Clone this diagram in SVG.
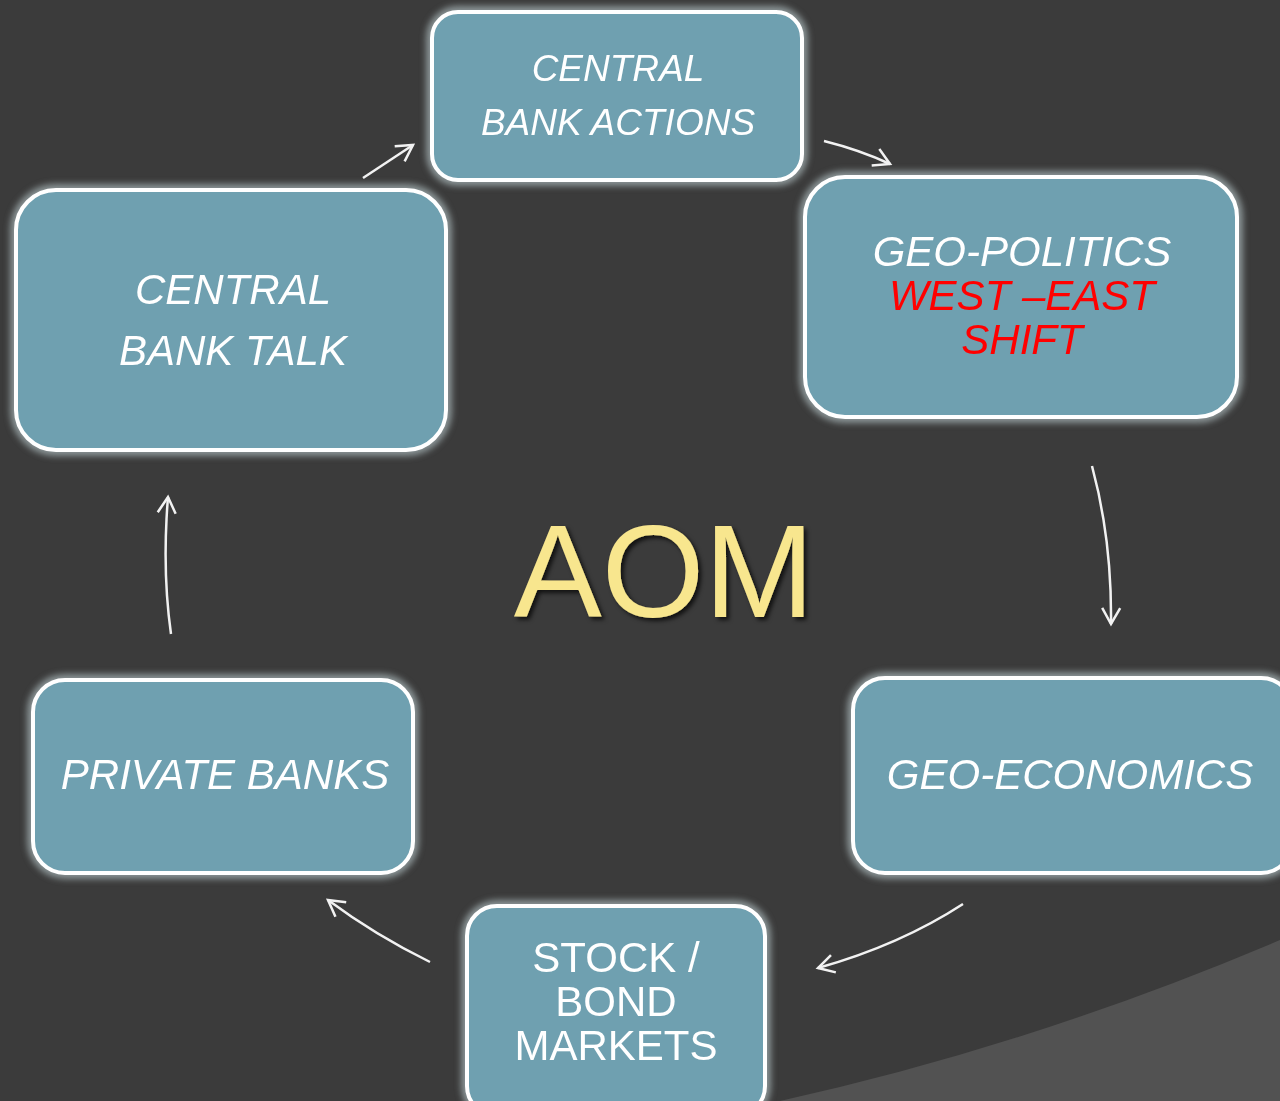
<svg xmlns="http://www.w3.org/2000/svg" width="1280" height="1101" viewBox="0 0 1280 1101">
<defs>
<style>
.box{fill:#6fa0b0;stroke:#ffffff;stroke-width:4}
.halo{fill:none;stroke:#98a3a6;stroke-width:12;opacity:0.85}
.t{font-family:"Liberation Sans",Arial,sans-serif;font-style:italic;fill:#ffffff;text-anchor:middle}
.n{font-family:"Liberation Sans",Arial,sans-serif;fill:#ffffff;text-anchor:middle}
.red{fill:#ff0000}
.conn{fill:none;stroke:#f2f2f2;stroke-width:2.5;marker-end:url(#ah)}
</style>
<filter id="blur" x="-10%" y="-10%" width="120%" height="120%"><feGaussianBlur stdDeviation="3"/></filter>
<filter id="shadow" x="-10%" y="-10%" width="130%" height="130%">
<feGaussianBlur in="SourceAlpha" stdDeviation="2"/>
<feOffset dx="3" dy="3" result="b"/>
<feFlood flood-color="#000000" flood-opacity="0.7"/>
<feComposite in2="b" operator="in" result="s"/>
<feMerge><feMergeNode in="s"/><feMergeNode in="SourceGraphic"/></feMerge>
</filter>
<marker id="ah" viewBox="0 0 24 24" refX="21" refY="12" markerWidth="24" markerHeight="24" markerUnits="userSpaceOnUse" orient="auto">
<path d="M5,3 L21,12 L5,21" fill="none" stroke="#f2f2f2" stroke-width="2.5"/>
</marker>
</defs>
<rect x="0" y="0" width="1280" height="1101" fill="#3b3b3b"/>
<path d="M780,1101 Q1030,1046 1280,940 L1280,1101 Z" fill="#525252"/>

<g id="halos" filter="url(#blur)">
<rect class="halo" x="432" y="12" width="370" height="168" rx="26"/>
<rect class="halo" x="805" y="177" width="432" height="240" rx="40"/>
<rect class="halo" x="16" y="190" width="430" height="260" rx="40"/>
<rect class="halo" x="33" y="680" width="380" height="193" rx="32"/>
<rect class="halo" x="853" y="678" width="440" height="195" rx="32"/>
<rect class="halo" x="467" y="906" width="298" height="210" rx="30"/>
</g>

<g id="connectors">
<path class="conn" d="M363,178 L413,145"/>
<path class="conn" d="M824,141 Q860,150 890,164"/>
<path class="conn" d="M1092,466 Q1112,540 1111,624"/>
<path class="conn" d="M963,904 Q900,945 818,968"/>
<path class="conn" d="M430,962 Q375,935 328,900"/>
<path class="conn" d="M171,634 Q162,570 168,497"/>
</g>

<g id="node-central-bank-actions">
<rect class="box" x="432" y="12" width="370" height="168" rx="26"/>
<text class="t" font-size="37" x="618" y="81">CENTRAL</text>
<text class="t" font-size="37" x="618" y="135">BANK ACTIONS</text>
</g>

<g id="node-geo-politics">
<rect class="box" x="805" y="177" width="432" height="240" rx="40"/>
<text class="t" font-size="42" x="1022" y="266">GEO-POLITICS</text>
<text class="t red" font-size="42" x="1022" y="310">WEST –EAST</text>
<text class="t red" font-size="42" x="1022" y="354">SHIFT</text>
</g>

<g id="node-central-bank-talk">
<rect class="box" x="16" y="190" width="430" height="260" rx="40"/>
<text class="t" font-size="42" x="233" y="304">CENTRAL</text>
<text class="t" font-size="42" x="233" y="365">BANK TALK</text>
</g>

<g id="node-private-banks">
<rect class="box" x="33" y="680" width="380" height="193" rx="32"/>
<text class="t" font-size="42" x="225" y="789">PRIVATE BANKS</text>
</g>

<g id="node-geo-economics">
<rect class="box" x="853" y="678" width="440" height="195" rx="32"/>
<text class="t" font-size="42" x="1070" y="789">GEO-ECONOMICS</text>
</g>

<g id="node-stock-bond">
<rect class="box" x="467" y="906" width="298" height="210" rx="30"/>
<text class="n" font-size="42" x="616" y="972">STOCK /</text>
<text class="n" font-size="42" x="616" y="1016">BOND</text>
<text class="n" font-size="42" x="616" y="1060">MARKETS</text>
</g>

<g id="title">
<text x="664" y="617" font-family="'Liberation Sans',Arial,sans-serif" font-size="132" fill="#f8e68e" text-anchor="middle" filter="url(#shadow)">AOM</text>
</g>
</svg>
